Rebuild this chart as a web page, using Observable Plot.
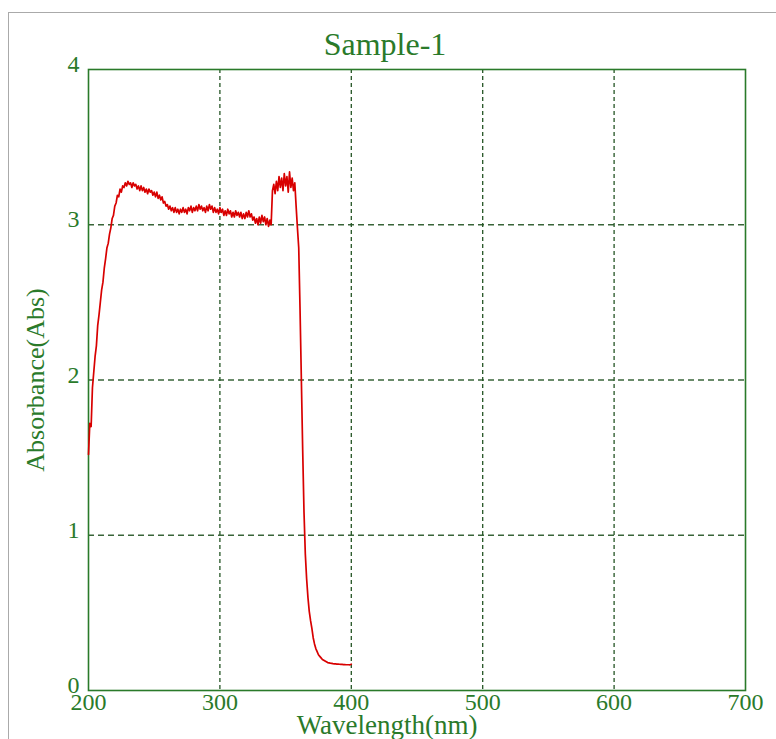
<!DOCTYPE html>
<html><head><meta charset="utf-8">
<script src="https://cdn.jsdelivr.net/npm/d3@7"></script>
<script src="https://cdn.jsdelivr.net/npm/@observablehq/plot@0.6"></script>
<style>
body{margin:0;background:#fff;}
#wrap{position:relative;width:776px;height:739px;overflow:hidden;background:#fff;}
#border{position:absolute;left:8px;top:12px;right:-4px;bottom:-4px;border-top:1.5px solid #aaa;border-left:1.5px solid #aaa;}
#chart{position:absolute;left:0;top:0;}
</style></head><body><div id="wrap"><div id="border"></div><div id="chart"></div></div>
<script>
const title = "Sample-1";
const xLabel = "Wavelength(nm)";
const yLabel = "Absorbance(Abs)";
const xTicks = [200, 300, 400, 500, 600, 700];
const yTicks = [0, 1, 2, 3, 4];
const wavelengthStart = 200; // nm, 1 nm step
const absorbance = [
  1.52, 1.72, 1.70, 1.95, 2.05, 2.15, 2.22, 2.35, 2.42, 2.50,
  2.58, 2.63, 2.72, 2.78, 2.85, 2.88, 2.94, 2.98, 3.04, 3.06,
  3.12, 3.14, 3.19, 3.18, 3.23, 3.21, 3.25, 3.24, 3.27, 3.25,
  3.28, 3.26, 3.27, 3.24, 3.27, 3.25, 3.26, 3.23, 3.25, 3.22,
  3.25, 3.22, 3.24, 3.21, 3.23, 3.20, 3.23, 3.21, 3.22, 3.19,
  3.21, 3.18, 3.21, 3.17, 3.19, 3.16, 3.18, 3.14, 3.15, 3.12,
  3.13, 3.10, 3.12, 3.09, 3.11, 3.08, 3.11, 3.08, 3.10, 3.07,
  3.10, 3.08, 3.11, 3.08, 3.10, 3.07, 3.11, 3.09, 3.12, 3.08,
  3.11, 3.09, 3.12, 3.09, 3.13, 3.10, 3.12, 3.09, 3.11, 3.08,
  3.12, 3.09, 3.13, 3.10, 3.12, 3.08, 3.11, 3.08, 3.10, 3.07,
  3.11, 3.08, 3.10, 3.06, 3.09, 3.06, 3.10, 3.07, 3.09, 3.05,
  3.08, 3.05, 3.09, 3.06, 3.08, 3.05, 3.08, 3.04, 3.07, 3.04,
  3.08, 3.05, 3.09, 3.05, 3.07, 3.03, 3.05, 3.01, 3.04, 3.00,
  3.05, 3.01, 3.06, 3.02, 3.05, 3.00, 3.04, 2.99, 3.03, 3.00,
  3.22, 3.26, 3.20, 3.28, 3.22, 3.31, 3.24, 3.30, 3.22, 3.33,
  3.25, 3.31, 3.21, 3.34, 3.24, 3.30, 3.22, 3.27, 3.12, 2.98,
  2.85, 2.45, 2.00, 1.55, 1.15, 0.88, 0.72, 0.60, 0.51, 0.45,
  0.40, 0.34, 0.30, 0.27, 0.25, 0.23, 0.22, 0.21, 0.20, 0.195,
  0.19, 0.185, 0.18, 0.178, 0.176, 0.175, 0.173, 0.172, 0.171, 0.17,
  0.17, 0.169, 0.168, 0.168, 0.167, 0.167, 0.166, 0.166, 0.166, 0.165,
  0.17
];
const data = absorbance.map((a, i) => ({w: wavelengthStart + i, a}));

const green = "#2a7a2a";
const gridColor = "#245424";
const serif = "'Liberation Serif', 'Times New Roman', serif";

const chart = Plot.plot({
  width: 776,
  height: 739,
  marginLeft: 88,
  marginRight: 31,
  marginTop: 69,
  marginBottom: 49,
  style: {fontFamily: serif, fontSize: "24px", background: "transparent", overflow: "visible"},
  x: {domain: [200, 700], label: null},
  y: {domain: [0, 4], label: null},
  marks: [
    Plot.gridX(xTicks.slice(1, -1), {stroke: gridColor, strokeOpacity: 1, strokeWidth: 1.3, strokeDasharray: "4,3"}),
    Plot.gridY(yTicks.slice(1, -1), {stroke: gridColor, strokeOpacity: 0.9, strokeWidth: 1.3, strokeDasharray: "6,4"}),
    Plot.frame({stroke: green, strokeWidth: 1.6}),
    Plot.axisX(xTicks, {tickSize: 0, tickPadding: 2, color: green, tickFormat: "d"}),
    Plot.axisY(yTicks, {tickSize: 0, tickPadding: 9, color: green, dy: -5, tickFormat: "d"}),
    Plot.line(data, {x: "w", y: "a", stroke: "#d80000", strokeWidth: 1.7}),
    Plot.text([title], {frameAnchor: "top", dy: -25, dx: -32, fontSize: 32, fill: green, lineAnchor: "middle"}),
    Plot.text([xLabel], {frameAnchor: "bottom", dy: 35, dx: -30, fontSize: 27, fill: green, lineAnchor: "middle"}),
    Plot.text([yLabel], {frameAnchor: "left", dx: -53, rotate: -90, fontSize: 26, fill: green, textAnchor: "middle", lineAnchor: "middle"})
  ]
});
document.getElementById("chart").appendChild(chart);
</script>
</body></html>
